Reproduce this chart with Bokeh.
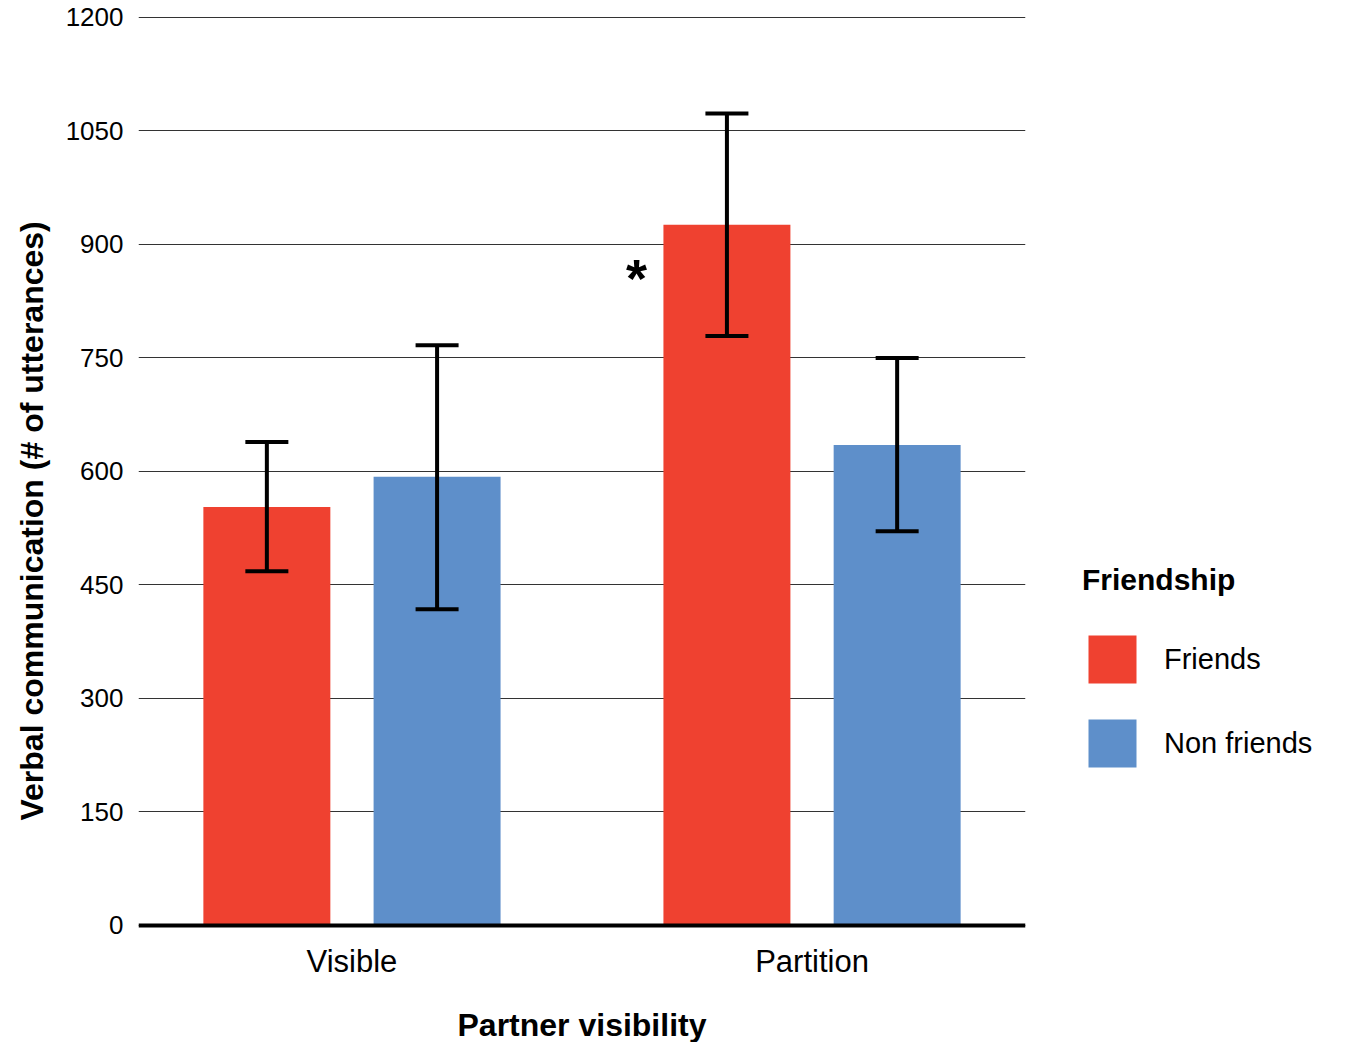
from bokeh.plotting import figure
from bokeh.models import (ColumnDataSource, Range1d, FixedTicker, Whisker, TeeHead,
                          Span, Legend, LegendItem, Title)
from bokeh.core.properties import value
from bokeh.embed import file_html
from bokeh.resources import INLINE

# ---- data ----
groups = ["Visible", "Partition"]
series = ["Friends", "Non friends"]
friends_mean = [553, 926]
friends_upper = [639, 1073]
friends_lower = [468, 779]
nonfriends_mean = [593, 635]
nonfriends_upper = [767, 750]
nonfriends_lower = [418, 521]
y_ticks = [0, 150, 300, 450, 600, 750, 900, 1050, 1200]
star_group = "Partition"
star_value = 856
x_title = "Partner visibility"
y_title = "Verbal communication (# of utterances)"
legend_title = "Friendship"

colors = {"Friends": "#EF4130", "Non friends": "#5E8FCA"}
FONT = "Liberation Sans"

group_x = {g: i + 1 for i, g in enumerate(groups)}
offset = 0.185
bar_w = 0.276

src_f = ColumnDataSource(dict(x=[group_x[g] - offset for g in groups],
                              top=friends_mean, upper=friends_upper, lower=friends_lower))
src_n = ColumnDataSource(dict(x=[group_x[g] + offset for g in groups],
                              top=nonfriends_mean, upper=nonfriends_upper, lower=nonfriends_lower))

p = figure(output_backend="svg", toolbar_location=None,
           frame_width=887, frame_height=912,
           min_border_left=137, min_border_right=306,
           min_border_top=16, min_border_bottom=111,
           x_range=Range1d(0.536, 2.464), y_range=Range1d(-4, 1201.32))
p.background_fill_color = "white"
p.border_fill_color = "white"
p.outline_line_color = None

r_f = p.vbar(x="x", top="top", width=bar_w, source=src_f,
             fill_color=colors["Friends"], line_color=None)
r_n = p.vbar(x="x", top="top", width=bar_w, source=src_n,
             fill_color=colors["Non friends"], line_color=None)

for src in (src_f, src_n):
    w = Whisker(base="x", upper="upper", lower="lower", source=src,
                line_color="black", line_width=4, level="overlay",
                upper_head=TeeHead(size=43, line_width=4, line_color="black"),
                lower_head=TeeHead(size=43, line_width=4, line_color="black"))
    p.add_layout(w)

# zero baseline
p.add_layout(Span(location=0, dimension="width", line_color="black", line_width=4))

# asterisk
p.text(x=[group_x[star_group] - 0.3815], y=[star_value], text=["*"],
       text_font=value(FONT), text_font_size="54px", text_font_style="bold",
       text_align="center", text_baseline="alphabetic", text_color="black")

# grid
p.xgrid.grid_line_color = None
p.ygrid.grid_line_color = "#333333"
p.ygrid.grid_line_width = 1
p.ygrid.ticker = FixedTicker(ticks=y_ticks)

# y axis
p.yaxis.ticker = FixedTicker(ticks=y_ticks)
p.yaxis.axis_line_color = None
p.yaxis.major_tick_line_color = None
p.yaxis.minor_tick_line_color = None
p.yaxis.major_tick_out = 0
p.yaxis.major_tick_in = 0
p.yaxis.major_label_standoff = 15
p.yaxis.major_label_text_font = FONT
p.yaxis.major_label_text_font_size = "26px"
p.yaxis.major_label_text_color = "black"

# y title (left panel, shifted along the axis like the reference)
p.add_layout(Title(text=y_title, align="left", offset=108,
                   vertical_align="middle", standoff=24,
                   text_font=FONT, text_font_size="32px",
                   text_font_style="bold", text_color="black"), "left")

# x axis
p.xaxis.ticker = FixedTicker(ticks=[group_x[g] for g in groups])
p.xaxis.major_label_overrides = {group_x[g]: g for g in groups}
p.xaxis.axis_line_color = None
p.xaxis.major_tick_line_color = None
p.xaxis.minor_tick_line_color = None
p.xaxis.major_tick_out = 0
p.xaxis.major_tick_in = 0
p.xaxis.major_label_standoff = 15
p.xaxis.major_label_text_font = FONT
p.xaxis.major_label_text_font_size = "31px"
p.xaxis.major_label_text_color = "black"
p.xaxis.axis_label = x_title
p.xaxis.axis_label_text_font = FONT
p.xaxis.axis_label_text_font_size = "32px"
p.xaxis.axis_label_text_font_style = "bold"
p.xaxis.axis_label_text_color = "black"
p.xaxis.axis_label_standoff = 25

# legend
legend = Legend(items=[LegendItem(label=series[0], renderers=[r_f]),
                       LegendItem(label=series[1], renderers=[r_n])],
                location=(57, 155), orientation="vertical",
                title=legend_title,
                title_text_font=FONT, title_text_font_size="30px",
                title_text_font_style="bold", title_text_color="black",
                title_standoff=32,
                label_text_font=FONT, label_text_font_size="29px",
                label_text_color="black",
                glyph_width=60, glyph_height=60, label_standoff=22,
                spacing=24, padding=0, margin=0,
                border_line_color=None, background_fill_alpha=0)
p.add_layout(legend, "right")

open("out.html", "w").write(file_html(p, INLINE))
